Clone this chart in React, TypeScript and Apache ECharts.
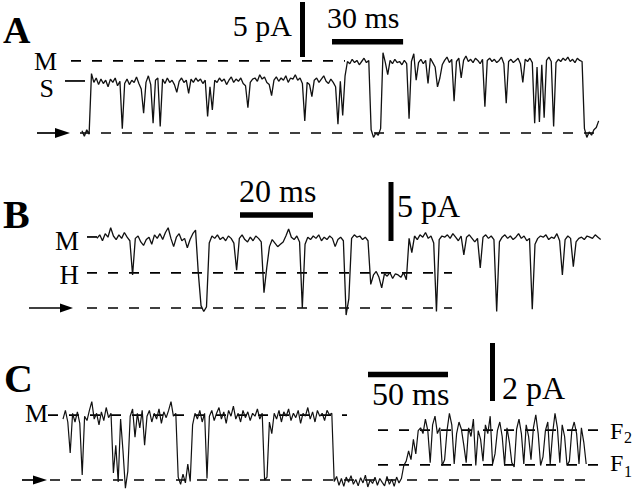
import React, { useEffect, useRef } from "react";
import * as echarts from "echarts";

// ================= DATA =================
// Panel A: current trace, pA, one sample per A_DT ms
const A_DT = 1;
const A_TRACE = [
  0.2, -0.3, 0.3, -0.1,
  5.4,
  4.6, 5.0, 4.4, 4.9, 4.5, 4.8, 4.2, 4.9, 4.6, 5.0, 4.3, 4.7,
  0.4,
  4.5, 4.9, 4.4, 4.8, 4.6, 5.1, 4.5, 4.0,
  1.8,
  4.6, 5.2, 4.4,
  0.9,
  4.8, 5.0,
  0.6,
  4.9, 4.5, 5.0, 4.6, 4.8, 4.4,
  3.7,
  4.7, 5.0, 4.6, 4.8,
  3.6,
  4.9, 4.6, 5.0, 4.7, 4.9, 4.5, 4.8,
  1.5, 4.2, 2.1,
  4.8, 4.6, 5.0, 4.7, 4.9, 4.4, 4.8, 5.1, 4.6, 4.9, 4.7, 5.0, 4.5, 4.3,
  2.3,
  4.6, 4.9, 5.0, 4.7, 5.3, 4.9, 5.1, 4.6, 4.4,
  3.4,
  4.8, 5.1, 4.7, 5.0, 4.8, 5.2, 4.6, 5.0, 4.9, 5.3, 4.8, 5.0, 4.5,
  1.1,
  4.6, 4.4,
  3.3,
  4.8, 5.0, 4.6, 4.9, 5.2, 4.7, 4.5, 4.9, 4.6, 4.2,
  0.8, 4.7, 1.6, 5.2,
  6.5, 6.3, 6.7, 6.4, 6.6, 6.2, 6.5, 6.8, 6.4, 6.6,
  0.3, -0.4, 0.0, -0.2, 0.4,
  7.3, 6.4, 5.3,
  6.6, 6.3, 6.7, 6.4, 6.5, 6.2, 6.6, 6.3,
  1.3,
  6.5, 7.2,
  4.8,
  6.4, 6.7, 6.3, 6.6,
  4.5,
  6.8, 6.4, 6.0,
  4.2, 5.0,
  6.2, 6.6, 6.9, 6.4, 6.7,
  2.9,
  6.5, 6.8,
  5.0,
  6.6, 7.0, 6.5, 6.7, 6.4, 6.8, 6.6, 6.3, 6.7,
  2.4,
  6.6, 6.8, 6.5, 6.7, 6.4, 6.6, 6.9, 6.3,
  2.7,
  6.5, 6.7, 6.4, 6.6, 6.8, 6.3,
  4.6,
  6.7, 6.5, 6.8, 6.4,
  0.9, 6.0, 1.0, 6.2, 1.4,
  6.6, 6.9, 6.5,
  0.6,
  6.4, 6.7, 6.5, 6.8, 6.6, 6.9, 6.5, 6.7, 6.4, 6.8, 6.6, 6.5,
  0.4, -0.4, 0.1, -0.2, 0.3, 0.5, 1.1,
];
const A_LEVELS = { M: 6.55, S: 4.73, closed: 0 };

// Panel B
const B_DT = 0.75;
const B_TRACE = [
  5.9, 6.2, 5.7, 6.3, 6.0,
  6.8,
  6.1, 5.8, 6.2, 5.9, 6.4, 6.0, 5.7,
  2.8,
  5.9, 6.1, 5.6, 5.3, 5.8, 6.0, 5.4, 6.2, 5.9, 6.3, 5.8, 6.4,
  6.8,
  5.9, 5.2, 6.0, 6.3, 5.7, 5.9, 5.1, 5.8, 6.3,
  6.6, 3.0,
  0.2, -0.3, 0.1,
  5.5,
  6.1, 5.9, 6.2, 5.8, 6.0, 5.7, 6.1, 5.9, 5.5,
  3.2,
  5.9, 6.2, 5.8, 5.6, 6.0, 5.7, 6.1, 5.9, 5.6,
  1.3, 3.4, 5.2,
  5.8, 5.5, 5.2, 5.4, 5.6, 6.1,
  6.7,
  6.0, 5.8, 6.1,
  5.6, 0.0, 5.4,
  6.0, 5.8, 6.1, 5.9, 6.2, 5.7, 6.0, 5.8, 6.1, 5.9, 5.2, 5.8, 6.0,
  5.7, -0.6, 0.8, 5.9,
  6.2, 6.0, 6.1, 5.8, 6.0,
  5.7, 2.0,
  2.8, 3.1, 2.6, 1.7, 2.9, 2.7, 3.0, 2.5, 2.9, 2.8, 2.6, 3.0,
  2.4, 5.9, 4.7,
  6.1, 5.8, 6.2, 6.0, 6.4, 5.9, 6.1, 5.5,
  -0.3,
  5.8, 6.1, 6.0, 6.2, 5.9, 6.3, 6.0, 5.7, 6.1,
  4.5,
  6.0, 6.2, 5.9, 5.6, 5.9,
  3.4,
  6.0, 6.2, 5.9, 6.1, 5.8,
  -0.3,
  5.6, 6.0, 6.2, 5.9, 6.1, 5.8, 6.0, 6.3, 5.9, 6.1, 5.7, 5.9,
  -0.1,
  5.4, 5.9, 6.1, 6.0, 6.2, 5.8, 6.0, 5.9, 6.3, 5.7,
  2.8,
  5.8, 6.1, 5.9,
  3.5,
  5.6, 5.9, 6.0, 5.8, 6.1, 6.0, 5.9, 6.2, 6.0, 5.8,
];
const B_LEVELS = { M: 6.02, H: 2.97, closed: 0 };

// Panel C
const C_DT = 1.5;
const C_TRACE = [
  2.1, 2.4, 2.0,
  0.93,
  2.3, 2.0, 2.35, 1.95,
  0.17,
  2.2, 2.05, 2.4,
  2.7,
  2.1, 2.3, 1.9, 2.35, 2.05, 2.5, 2.15, 2.3,
  0.24, 1.2, -0.07, 2.1, 1.0, -0.28, 0.3,
  2.2, 2.45, 1.48,
  2.3, 1.8, 2.4,
  1.2,
  2.2, 2.4, 2.0, 2.3, 2.1, 2.45, 1.95, 2.35, 2.15, 2.4,
  2.7,
  2.2, 2.3,
  0.1, -0.15, 0.2, -0.1, 0.55, -0.05,
  1.9,
  2.3, 2.1, 2.4, 2.0, 2.3,
  0.05,
  2.2, 2.4, 2.05, 2.3, 2.5, 2.1, 2.35, 1.95, 2.4, 2.2, 2.55, 2.1, 2.3, 2.0, 2.4, 2.15, 2.35, 2.05, 2.3, 2.2, 2.45, 2.1, 2.3,
  0.0, 0.1, 2.0, 1.6,
  2.3, 2.1, 2.4, 2.0, 2.35, 2.2, 2.45, 2.05, 2.3, 2.15, 2.4, 1.95, 2.3, 2.2, 2.5, 2.1, 2.35, 2.0, 2.4, 2.2, 2.3, 2.05, 2.4, 2.25, 2.3,
  -0.05, 0.12, -0.18, 0.05, -0.22, 0.1, -0.08, 0.15, -0.15, 0.02, -0.2, 0.08, -0.1, 0.17, -0.24,
  0.0, -0.12, 0.1, -0.18, 0.05, -0.08, -0.2, 0.12, -0.15, 0.03, -0.22, 0.1, -0.1, 0.05,
  0.5, 0.65, 1.0, 0.7, 1.4, 0.9, 1.7,
  1.8, 1.6, 2.1, 1.7, 0.6, 1.9, 2.2, 1.6, 1.8, 0.5, 0.7, 1.7, 2.3, 1.9, 0.55,
  1.6, 2.0, 1.75, 1.2, 0.6, 1.8, 1.5, 2.1, 0.5, 1.7, 1.4, 0.65, 1.9, 1.6, 2.2,
  0.55, 0.9, 1.7, 2.0, 1.5, 0.5, 1.8, 1.3, 0.6, 0.45, 1.75, 2.1, 1.6, 0.55, 1.9,
  1.5, 0.7, 1.8, 2.25, 1.6, 0.5, 0.8, 1.7, 2.0, 0.55, 1.6, 2.3, 1.8, 0.6, 1.9,
  1.5, 0.5, 0.65, 1.7, 2.0, 1.6, 0.55, 1.8, 1.3, 0.55,
];
const C_LEVELS = { M: 2.24, F2: 1.72, F1: 0.52, closed: 0 };

// Scale bars (values) and their labels
const SCALE_PA = { A: 5, B: 5, C: 2 };
const SCALE_MS = { A: 30, B: 20, C: 50 };
const SCALE_PA_LABELS = { A: "5 pA", B: "5 pA", C: "2 pA" };
const SCALE_MS_LABELS = { A: "30 ms", B: "20 ms", C: "50 ms" };
const PANEL_LETTERS = ["A", "B", "C"];

// ================= LAYOUT =================
const W = 640;
const H = 491;
type Panel = { x0: number; y0: number; pxMs: number; pxPA: number; top: number; height: number };
const PANELS: Record<string, Panel> = {
  A: { x0: 82, y0: 133, pxMs: 2.37, pxPA: 11, top: 0, height: 160 },
  B: { x0: 97, y0: 308, pxMs: 3.65, pxPA: 11.8, top: 165, height: 160 },
  C: { x0: 63, y0: 480, pxMs: 1.6, pxPA: 29, top: 335, height: 156 },
};
const px2t = (p: Panel, X: number) => (X - p.x0) / p.pxMs;
const px2v = (p: Panel, Y: number) => (p.y0 - Y) / p.pxPA;

const FONT = '"Liberation Serif", "Times New Roman", serif';
const DASH = [10, 11];

export default function App() {
  const ref = useRef<HTMLDivElement>(null);

  useEffect(() => {
    if (!ref.current) return;
    const chart = echarts.init(ref.current, undefined, { renderer: "svg" });
    const keys = ["A", "B", "C"];

    const grids = keys.map((k) => ({
      left: 0,
      width: W,
      top: PANELS[k].top,
      height: PANELS[k].height,
      containLabel: false,
    }));
    const xAxes = keys.map((k, i) => {
      const p = PANELS[k];
      return { type: "value", gridIndex: i, min: -p.x0 / p.pxMs, max: (W - p.x0) / p.pxMs, show: false, splitLine: { show: false } };
    });
    const yAxes = keys.map((k, i) => {
      const p = PANELS[k];
      return {
        type: "value",
        gridIndex: i,
        max: (p.y0 - p.top) / p.pxPA,
        min: (p.y0 - p.top - p.height) / p.pxPA,
        show: false,
        splitLine: { show: false },
      };
    });

    const series: any[] = [];
    const addLine = (g: number, data: number[][], lineStyle: any) =>
      series.push({
        type: "line",
        xAxisIndex: g,
        yAxisIndex: g,
        data,
        symbol: "none",
        silent: true,
        clip: false,
        animation: false,
        lineStyle: { color: "#000", ...lineStyle },
        z: lineStyle.z || 2,
      });
    const level = (k: string, g: number, v: number, X1: number, X2: number, dashed: boolean) => {
      const p = PANELS[k];
      addLine(g, [[px2t(p, X1), v], [px2t(p, X2), v]], { width: 1.7, type: dashed ? DASH : "solid", z: 1 });
    };
    const scaleBars = (k: string, g: number, vx: number, vyBottom: number, hx: number, hy: number) => {
      const p = PANELS[k];
      const t = px2t(p, vx);
      const vb = px2v(p, vyBottom);
      addLine(g, [[t, vb], [t, vb + SCALE_PA[k]]], { width: 5, cap: "butt" });
      const t0 = px2t(p, hx);
      const vh = px2v(p, hy);
      addLine(g, [[t0, vh], [t0 + SCALE_MS[k], vh]], { width: 5.5, cap: "butt" });
    };

    // traces
    addLine(0, A_TRACE.map((v, i) => [i * A_DT, v]), { width: 1.3, color: "#111", z: 3 });
    addLine(1, B_TRACE.map((v, i) => [i * B_DT, v]), { width: 1.3, color: "#111", z: 3 });
    addLine(2, C_TRACE.map((v, i) => [i * C_DT, v]), { width: 1.2, color: "#111", z: 3 });

    // reference levels
    level("A", 0, A_LEVELS.M, 71, 345, true);
    level("A", 0, A_LEVELS.S, 65, 85, false);
    level("A", 0, A_LEVELS.closed, 80, 605, true);
    level("B", 1, B_LEVELS.M, 87, 97, false);
    level("B", 1, B_LEVELS.H, 87, 452, true);
    level("B", 1, B_LEVELS.closed, 87, 452, true);
    level("C", 2, C_LEVELS.M, 48, 347, true);
    level("C", 2, C_LEVELS.F2, 378, 607, true);
    level("C", 2, C_LEVELS.F1, 378, 607, true);
    level("C", 2, C_LEVELS.closed, 50, 593, true);

    // scale bars
    scaleBars("A", 0, 302.5, 57, 332, 41.7);
    scaleBars("B", 1, 391, 241, 240, 215);
    scaleBars("C", 2, 492.5, 401, 368, 374.5);

    const txt = (text: string, x: number, y: number, size: number, align: string, bold = false) => ({
      type: "text",
      x,
      y,
      silent: true,
      style: {
        text,
        font: `${bold ? "bold " : ""}${size}px ${FONT}`,
        fill: "#000",
        textAlign: align,
        textVerticalAlign: "middle",
        align,
        verticalAlign: "middle",
      },
    });
    const arrow = (x1: number, xHead: number, xTip: number, y: number, half: number) => [
      { type: "line", silent: true, shape: { x1, y1: y, x2: xHead + 2, y2: y }, style: { stroke: "#000", lineWidth: 1.7 } },
      {
        type: "polygon",
        silent: true,
        shape: { points: [[xHead, y - half], [xTip, y], [xHead, y + half]] },
        style: { fill: "#000" },
      },
    ];

    const graphic: any[] = [
      txt(PANEL_LETTERS[0], 3, 30, 38, "left", true),
      txt("M", 57, 61, 26, "right"),
      txt("S", 54, 88.5, 26, "right"),
      txt(SCALE_PA_LABELS.A, 292, 25, 30, "right"),
      txt(SCALE_MS_LABELS.A, 327, 17, 30, "left"),
      ...arrow(37, 55, 70, 133, 5),

      txt(PANEL_LETTERS[1], 3, 214, 40, "left", true),
      txt("M", 79, 241, 27, "right"),
      txt("H", 79, 274.5, 27, "right"),
      txt(SCALE_MS_LABELS.B, 239, 190.5, 32, "left"),
      txt(SCALE_PA_LABELS.B, 397, 206, 32, "left"),
      ...arrow(29, 60, 73, 308, 4.5),

      txt(PANEL_LETTERS[2], 4, 378, 40, "left", true),
      txt("M", 48, 413, 26, "right"),
      txt(SCALE_MS_LABELS.C, 372, 394, 32, "left"),
      txt(SCALE_PA_LABELS.C, 502, 388, 32, "left"),
      txt("F", 610, 430.5, 24, "left"),
      txt("2", 624, 437.5, 16, "left"),
      txt("F", 610, 462.5, 24, "left"),
      txt("1", 624, 471, 16, "left"),
      ...arrow(22, 33, 47, 480, 4.5),
    ];

    chart.setOption({
      animation: false,
      backgroundColor: "#fff",
      grid: grids,
      xAxis: xAxes,
      yAxis: yAxes,
      series,
      graphic,
    });
    return () => chart.dispose();
  }, []);

  return (
    <div
      ref={ref}
      style={{ position: "fixed", left: 0, top: 0, width: W, height: H, background: "#fff" }}
    />
  );
}
